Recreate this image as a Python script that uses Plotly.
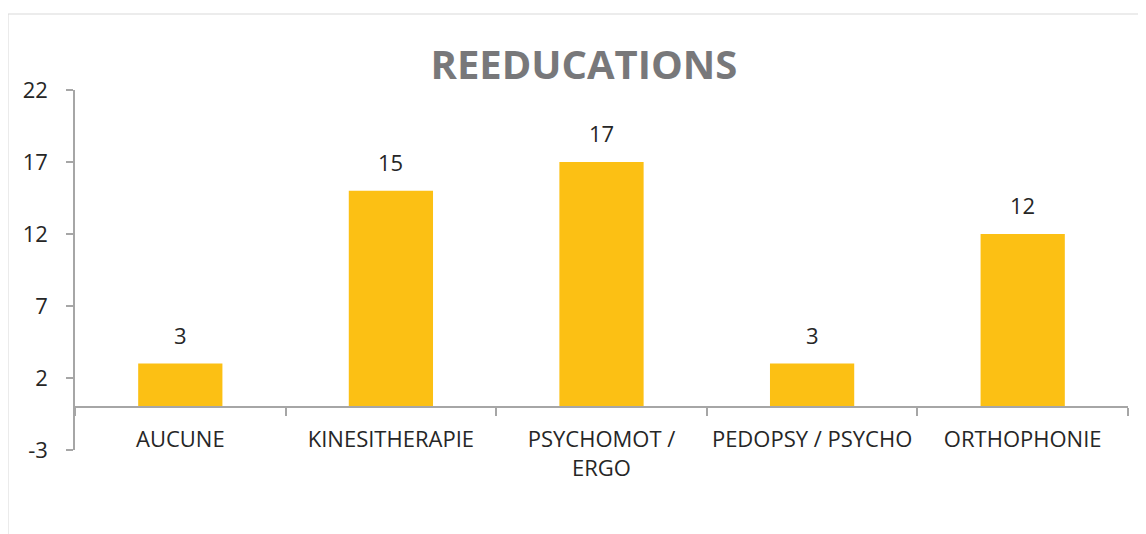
import plotly.graph_objects as go

categories = ["AUCUNE", "KINESITHERAPIE", "PSYCHOMOT /<br>ERGO", "PEDOPSY / PSYCHO", "ORTHOPHONIE"]
values = [3, 15, 17, 3, 12]
y_ticks = [-3, 2, 7, 12, 17, 22]
y_tick_labels = ["-3", "2", "7", "12", "17", "22"]
title_text = "REEDUCATIONS"

FONT = "Open Sans"
TEXT = "#262626"
AXIS = "#a6a6a6"
BAR = "#FCC014"

fig = go.Figure()
fig.add_trace(go.Bar(
    x=categories, y=values,
    marker=dict(color=BAR, line=dict(width=0)),
    hoverinfo="skip",
))

for c, v in zip(categories, values):
    fig.add_annotation(
        x=c, y=v, text=str(v), showarrow=False,
        xref="x", yref="y", yanchor="bottom", yshift=12,
        font=dict(family=FONT, size=22, color=TEXT),
    )

# light chart-area border (top and left)
fig.add_shape(type="line", xref="paper", yref="paper",
              x0=-0.0636, x1=1.05, y0=1.2111, y1=1.2111,
              line=dict(color="#d9d9d9", width=1))
fig.add_shape(type="line", xref="paper", yref="paper",
              x0=-0.0636, x1=-0.0636, y0=-0.5, y1=1.2111,
              line=dict(color="#d9d9d9", width=1))

y_min, y_max = y_ticks[0], y_ticks[-1]
zero_pos = (0 - y_min) / (y_max - y_min)

fig.update_layout(
    width=1138, height=526,
    margin=dict(l=67, r=18, t=82, b=84, autoexpand=False),
    paper_bgcolor="white", plot_bgcolor="white",
    bargap=0.6,
    showlegend=False,
    title=dict(text="<b>" + title_text + "</b>", x=0.5061, xref="container",
               y=0.892, yref="container", xanchor="center", yanchor="middle",
               font=dict(family=FONT, size=40, color="#78787a")),
    xaxis=dict(
        type="category", anchor="free", position=zero_pos,
        showline=True, linecolor=AXIS, linewidth=1.5,
        ticks="outside", tickson="boundaries", ticklen=8, tickcolor=AXIS, tickwidth=1.5,
        ticklabelstandoff=13, tickangle=0, automargin=False,
        tickfont=dict(family=FONT, size=22, color=TEXT),
        showgrid=False, zeroline=False, fixedrange=True,
    ),
    yaxis=dict(
        range=[y_min, y_max], tickmode="array", tickvals=y_ticks, ticktext=y_tick_labels,
        showline=True, linecolor=AXIS, linewidth=1.5,
        ticks="outside", ticklen=7, tickcolor=AXIS, tickwidth=1.5,
        ticklabelstandoff=14, automargin=False,
        tickfont=dict(family=FONT, size=22, color=TEXT),
        showgrid=False, zeroline=False, fixedrange=True,
    ),
)

fig.write_html("out.html")
